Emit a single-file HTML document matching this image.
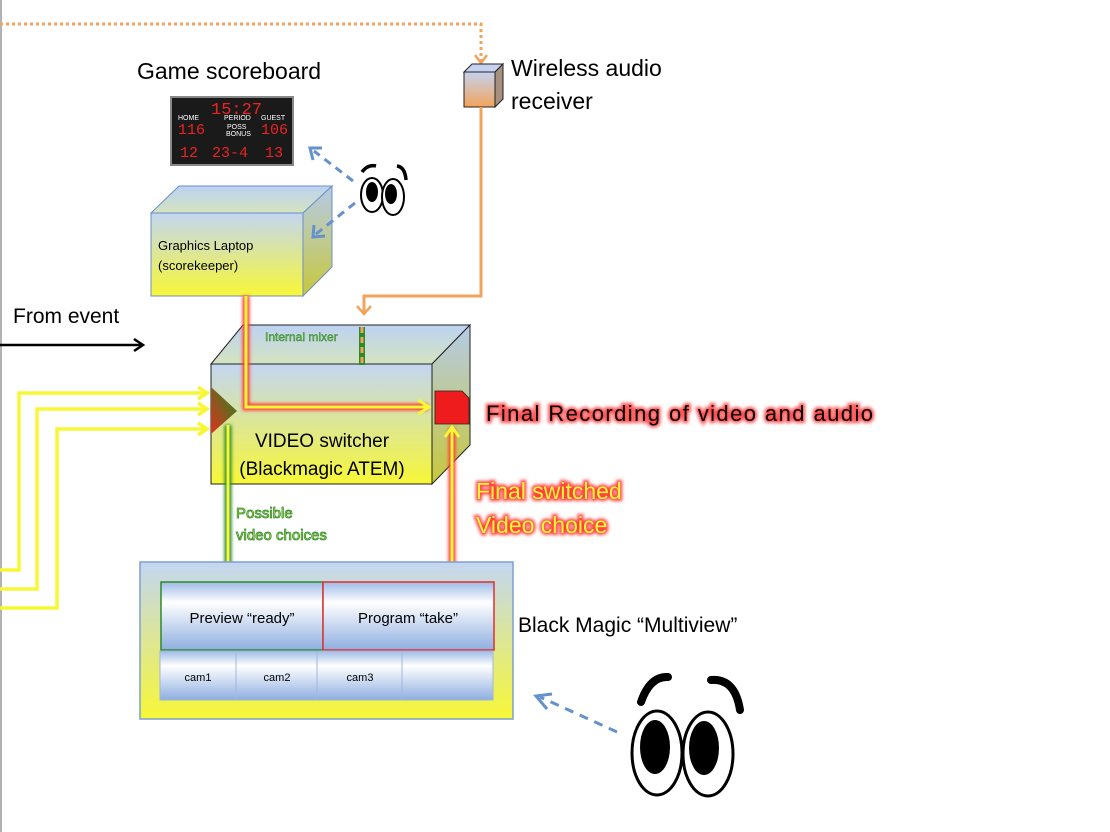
<!DOCTYPE html>
<html><head><meta charset="utf-8"><style>html,body{margin:0;padding:0;background:#fff;}svg{display:block}</style></head>
<body>
<svg width="1110" height="832" viewBox="0 0 1110 832" xmlns="http://www.w3.org/2000/svg" font-family="Liberation Sans, sans-serif">
<defs>
<linearGradient id="gy" x1="0" y1="0" x2="0" y2="1"><stop offset="0" stop-color="#c3d6f2"/><stop offset="1" stop-color="#f7f736"/></linearGradient>
<linearGradient id="gs" x1="0" y1="0" x2="0" y2="1"><stop offset="0" stop-color="#b5cbe8"/><stop offset="1" stop-color="#c8c83a"/></linearGradient>
<linearGradient id="gt" x1="0" y1="0" x2="0" y2="1"><stop offset="0" stop-color="#bcd2f2"/><stop offset="1" stop-color="#d4e4c0"/></linearGradient>
<linearGradient id="gb" x1="0" y1="0" x2="0" y2="1"><stop offset="0" stop-color="#9ebbe6"/><stop offset="0.3" stop-color="#ffffff"/><stop offset="1" stop-color="#8eaee0"/></linearGradient>
<linearGradient id="go" x1="0" y1="0" x2="0" y2="1"><stop offset="0" stop-color="#c5d2f0"/><stop offset="1" stop-color="#f2a45c"/></linearGradient>
<linearGradient id="gtri" x1="0" y1="1" x2="1" y2="0"><stop offset="0" stop-color="#e0301c"/><stop offset="1" stop-color="#1f8a1f"/></linearGradient>
<filter id="glr" filterUnits="userSpaceOnUse" x="0" y="0" width="1110" height="832"><feGaussianBlur stdDeviation="1.5"/></filter>
</defs>
<line x1="1" y1="0" x2="1" y2="832" stroke="#999" stroke-width="1.5"/>
<polyline points="0,24 481,24 481,62" fill="none" stroke="#f2a45c" stroke-width="3" stroke-dasharray="3,3"/>
<polyline points="475,55 481,63 487,55" fill="none" stroke="#f2a45c" stroke-width="2.5"/>
<polygon points="464,72 472,64 503,64 495,72" fill="#c5d2f0" stroke="#222"/>
<polygon points="495,72 503,64 503,99 495,107" fill="#a89080" stroke="#222"/>
<rect x="464" y="72" width="31" height="35" fill="url(#go)" stroke="#222"/>
<text x="511" y="76" font-size="23">Wireless audio</text>
<text x="511" y="109" font-size="23">receiver</text>
<polyline points="481,107 481,296 364,296 364,314" fill="none" stroke="#f2a45c" stroke-width="3"/>
<polyline points="357,306 364,314 371,306" fill="none" stroke="#f2a45c" stroke-width="2.5"/>
<text x="137" y="79" font-size="23">Game scoreboard</text>
<rect x="171" y="97" width="122" height="68" fill="#1a1a1a" stroke="#888" stroke-width="2"/>
<g fill="#ee2222" font-family="Liberation Mono, monospace">
<text x="211" y="114" font-size="17">15:27</text>
<text x="178" y="134" font-size="15">116</text>
<text x="261" y="134" font-size="15">106</text>
<text x="180" y="157" font-size="15">12</text>
<text x="212" y="157" font-size="15">23-4</text>
<text x="265" y="157" font-size="15">13</text>
</g>
<g fill="#fff" font-size="7"><text x="178" y="120">HOME</text><text x="261" y="120">GUEST</text><text x="224" y="120">PERIOD</text><text x="227" y="129">POSS</text><text x="226" y="136">BONUS</text></g>
<polygon points="151,213 179,186 332,186 303,213" fill="url(#gt)" stroke="#6d8fc8"/>
<polygon points="303,213 332,186 332,267 303,296" fill="url(#gs)" stroke="#6d8fc8"/>
<rect x="151" y="213" width="152" height="83" fill="url(#gy)" stroke="#6d8fc8"/>
<text x="158" y="250" font-size="13">Graphics Laptop</text>
<text x="158" y="270" font-size="13">(scorekeeper)</text>
<g stroke="#000" stroke-width="2" fill="#fff">
<ellipse cx="372" cy="195" rx="11" ry="17"/><ellipse cx="393" cy="197" rx="11" ry="18"/>
</g>
<ellipse cx="372" cy="192" rx="6" ry="10"/><ellipse cx="391" cy="194" rx="6" ry="10"/>
<path d="M362,172 Q368,164 376,166" stroke="#000" stroke-width="3.5" fill="none"/>
<path d="M397,166 Q405,167 406,180" stroke="#000" stroke-width="3.5" fill="none"/>
<g stroke="#6592cc" stroke-width="3" fill="none">
<line x1="353" y1="181" x2="314" y2="151" stroke-dasharray="8,6"/><polyline points="313,160 310,148 322,148"/>
<line x1="355" y1="203" x2="316" y2="234" stroke-dasharray="8,6"/><polyline points="314,225 313,237 325,236"/>
<line x1="617" y1="732" x2="540" y2="697" stroke-dasharray="9,7"/><polyline points="547,709 536,696 552,694"/>
</g>
<g stroke="#000" stroke-width="3" fill="#fff">
<ellipse cx="657" cy="753" rx="25" ry="42"/><ellipse cx="708" cy="754" rx="25" ry="42"/>
</g>
<ellipse cx="655" cy="747" rx="15" ry="27"/><ellipse cx="704" cy="748" rx="15" ry="27"/>
<path d="M641,702 Q650,676 668,677" stroke="#000" stroke-width="8" fill="none" stroke-linecap="round"/>
<path d="M711,680 Q735,678 740,710" stroke="#000" stroke-width="8" fill="none" stroke-linecap="round"/>
<text x="13" y="323" font-size="21">From event</text>
<line x1="0" y1="345" x2="143" y2="345" stroke="#000" stroke-width="2.5"/>
<polyline points="134,339 143,345 134,351" fill="none" stroke="#000" stroke-width="2.5"/>
<g stroke="#f7f736" stroke-width="3.5" fill="none">
<polyline points="0,570 19,570 19,393 207,393"/><polyline points="0,589 37,589 37,409 207,409"/><polyline points="0,608 57,608 57,429 207,429"/>
<polyline points="198,387 207,393 198,399"/><polyline points="198,403 207,409 198,415"/><polyline points="198,423 207,429 198,435"/>
</g>
<polygon points="211,364 243,325 470,325 432,364" fill="url(#gt)" stroke="#222"/>
<polygon points="432,364 470,325 470,445 432,484" fill="url(#gs)" stroke="#222"/>
<rect x="211" y="364" width="221" height="120" fill="url(#gy)" stroke="#222"/>
<text x="265" y="341" font-size="12" fill="#6fbf3a" stroke="#2c7a2c" stroke-width="0.4">Internal mixer</text>
<line x1="362" y1="327" x2="362" y2="365" stroke="#2c8a2c" stroke-width="6"/>
<line x1="362" y1="327" x2="362" y2="365" stroke="#f2a45c" stroke-width="3" stroke-dasharray="6,4"/>
<polygon points="211,387 237,411 211,434" fill="url(#gtri)"/>
<text x="322" y="447" font-size="19" text-anchor="middle">VIDEO switcher</text>
<text x="322" y="475" font-size="19" text-anchor="middle">(Blackmagic ATEM)</text>
<polyline points="246,296 246,407 428,407" fill="none" stroke="#ff3a3a" stroke-width="7" filter="url(#glr)"/>
<polyline points="246,296 246,407 428,407" fill="none" stroke="#f7f736" stroke-width="3"/>
<polyline points="418,400 429,407 418,414" fill="none" stroke="#f7f736" stroke-width="3"/>
<path d="M435,391 L462,391 L469,398 L469,424 L435,424 Z" fill="#ee1c1c" stroke="#222" stroke-width="0.8"/>
<text x="486" y="421" font-size="22" fill="#ff5050" stroke="#ff5050" stroke-width="4" filter="url(#glr)" textLength="387">Final Recording of video and audio</text>
<text x="486" y="421" font-size="22" fill="#000" textLength="387">Final Recording of video and audio</text>
<line x1="452" y1="583" x2="452" y2="428" stroke="#ff3a3a" stroke-width="7" filter="url(#glr)"/>
<line x1="452" y1="583" x2="452" y2="428" stroke="#f7f736" stroke-width="3"/>
<polyline points="445,437 452,427 459,437" fill="none" stroke="#f7f736" stroke-width="3"/>
<g font-size="23">
<text x="476" y="499" fill="#ff4040" stroke="#ff4040" stroke-width="4" filter="url(#glr)">Final switched</text>
<text x="476" y="499" fill="#f7f736">Final switched</text>
<text x="476" y="533" fill="#ff4040" stroke="#ff4040" stroke-width="4" filter="url(#glr)">Video choice</text>
<text x="476" y="533" fill="#f7f736">Video choice</text>
</g>
<line x1="228" y1="425" x2="228" y2="578" stroke="#2c8a2c" stroke-width="7" filter="url(#glr)"/>
<line x1="228" y1="425" x2="228" y2="578" stroke="#f7f736" stroke-width="3"/>
<polyline points="221,569 228,579 235,569" fill="none" stroke="#f7f736" stroke-width="3"/>
<g font-size="15" fill="#d8f040" stroke="#2c8a2c" stroke-width="0.8">
<text x="236" y="518">Possible</text><text x="236" y="540">video choices</text>
</g>
<rect x="140" y="562" width="373" height="157" fill="url(#gy)" stroke="#7f9fd0" stroke-width="1.5"/>
<rect x="161" y="582" width="162" height="68" fill="url(#gb)" stroke="#2c8a2c" stroke-width="1.5"/>
<rect x="323" y="582" width="171" height="68" fill="url(#gb)" stroke="#e03030" stroke-width="1.5"/>
<text x="242" y="623" font-size="15" text-anchor="middle">Preview “ready”</text>
<text x="408" y="623" font-size="15" text-anchor="middle">Program “take”</text>
<g fill="url(#gb)" stroke="#9fb8dd">
<rect x="160" y="651" width="76" height="49"/><rect x="236" y="651" width="81" height="49"/><rect x="317" y="651" width="85" height="49"/><rect x="402" y="651" width="91" height="49"/>
</g>
<g font-size="11" text-anchor="middle"><text x="198" y="681">cam1</text><text x="277" y="681">cam2</text><text x="360" y="681">cam3</text></g>
<text x="518" y="632" font-size="21">Black Magic “Multiview”</text>
</svg>
</body></html>
